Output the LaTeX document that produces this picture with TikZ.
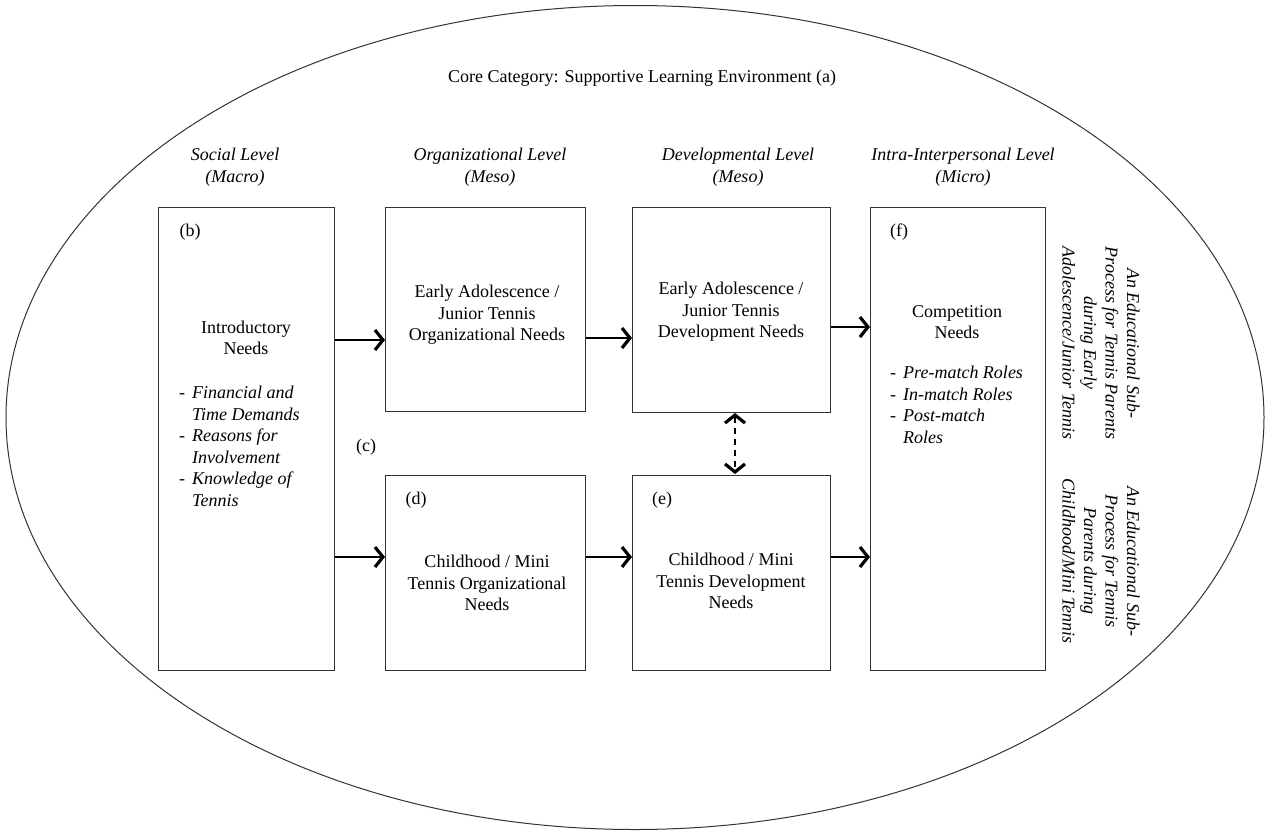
\documentclass[tikz,border=0pt]{standalone}
\usepackage{fontspec}
\setmainfont{Liberation Serif}
\usetikzlibrary{arrows.meta,shapes.geometric}
\begin{document}
\begin{tikzpicture}[x=1pt,y=-1pt,
  every node/.style={font=\fontsize{18}{21.5}\selectfont},
  boxs/.style={draw=black!80,line width=1pt},
  lbl/.style={align=center,inner sep=0pt},
  itl/.style={font=\fontsize{18}{21.5}\selectfont\itshape},
  arr/.style={line width=1.2pt,-{Straight Barb[length=8pt,width=20pt,line width=3.2pt]}},
  darr/.style={line width=1.2pt,dash pattern=on 6pt off 5pt,{Straight Barb[length=8pt,width=20pt,line width=3.2pt]}-{Straight Barb[length=8pt,width=20pt,line width=3.2pt]}}
]
\useasboundingbox (0,0) rectangle (1269,833);
\node[draw=black!80,line width=1pt,ellipse,minimum width=1258pt,minimum height=824pt,inner sep=0pt] (outer) at (635,417.5) {};
% boxes
\node[boxs,minimum width=176pt,minimum height=463pt,anchor=north west,inner sep=0pt] (b) at (158,207) {};
\node[boxs,minimum width=200pt,minimum height=204pt,anchor=north west,inner sep=0pt] (ot) at (385,207) {};
\node[boxs,minimum width=198pt,minimum height=205pt,anchor=north west,inner sep=0pt] (dt) at (632,207) {};
\node[boxs,minimum width=200pt,minimum height=195pt,anchor=north west,inner sep=0pt] (d) at (385,475) {};
\node[boxs,minimum width=198pt,minimum height=195pt,anchor=north west,inner sep=0pt] (e) at (632,475) {};
\node[boxs,minimum width=175pt,minimum height=463pt,anchor=north west,inner sep=0pt] (f) at (870,207) {};
% title
\node[lbl] (title) at (642,78) {Core Category: Supportive Learning Environment (a)};
% level headings
\node[lbl,itl] (h1) at (235,167) {Social Level\\(Macro)};
\node[lbl,itl] (h2) at (490,167) {Organizational Level\\(Meso)};
\node[lbl,itl] (h3) at (738,167) {Developmental Level\\(Meso)};
\node[lbl,itl] (h4) at (963,167) {Intra-Interpersonal Level\\(Micro)};
% letters
\node[lbl] (lb) at (190,232) {(b)};
\node[lbl] (lc) at (366,447) {(c)};
\node[lbl] (ld) at (416,500) {(d)};
\node[lbl] (le) at (662,500) {(e)};
\node[lbl] (lf) at (899,232) {(f)};
% box texts
\node[lbl] (tb) at (246,338) {Introductory\\Needs};
\node[lbl,align=left,anchor=north west] (lsb) at (179,386) {-\hspace{7pt}\itshape Financial and\\\hphantom{-}\hspace{7pt}\itshape Time Demands\\-\hspace{7pt}\itshape Reasons for\\\hphantom{-}\hspace{7pt}\itshape Involvement\\-\hspace{7pt}\itshape Knowledge of\\\hphantom{-}\hspace{7pt}\itshape Tennis};
\node[lbl] (tot) at (487,315) {Early Adolescence /\\Junior Tennis\\Organizational Needs};
\node[lbl] (tdt) at (731,312) {Early Adolescence /\\Junior Tennis\\Development Needs};
\node[lbl] (td) at (487,583) {Childhood / Mini\\Tennis Organizational\\Needs};
\node[lbl] (te) at (731,581) {Childhood / Mini\\Tennis Development\\Needs};
\node[lbl] (tf) at (957,322) {Competition\\Needs};
\node[lbl,align=left,anchor=north west] (lsf) at (890,366) {-\hspace{7pt}\itshape Pre-match Roles\\-\hspace{7pt}\itshape In-match Roles\\-\hspace{7pt}\itshape Post-match\\\hphantom{-}\hspace{7pt}\itshape Roles};
% rotated side texts
\node[lbl,rotate=-90,itl] (r1) at (1101,343) {An Educational Sub-\\Process for Tennis Parents\\during Early\\Adolescence/Junior Tennis};
\node[lbl,rotate=-90,itl] (r2) at (1101,561) {An Educational Sub-\\Process for Tennis\\Parents during\\Childhood/Mini Tennis};
% arrows
\draw[arr] (b.east |- 0,340) -- (ot.west |- 0,340);
\draw[arr] (b.east |- 0,557) -- (d.west |- 0,557);
\draw[arr] (ot.east |- 0,338) -- (dt.west |- 0,338);
\draw[arr] (dt.east |- 0,327) -- (f.west |- 0,327);
\draw[arr] (d.east |- 0,557) -- (e.west |- 0,557);
\draw[arr] (e.east |- 0,557) -- (f.west |- 0,557);
\coordinate (dd1) at (735,413);
\coordinate (dd2) at (735,474);
\draw[darr] (dd1) -- (dd2);
\end{tikzpicture}
\end{document}
